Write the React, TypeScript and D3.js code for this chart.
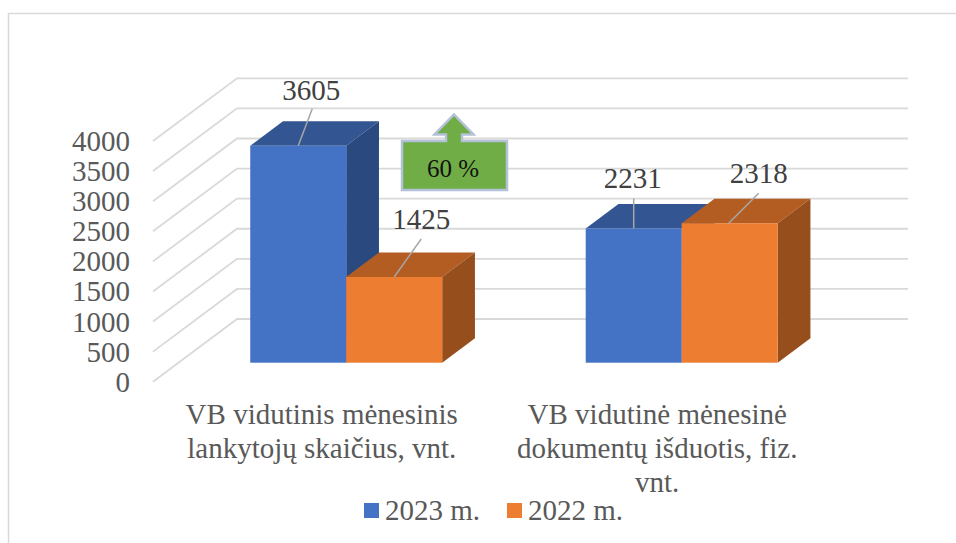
import * as d3 from "d3";
import { useEffect, useRef } from "react";

const categories = [
  ["VB vidutinis mėnesinis", "lankytojų skaičius, vnt."],
  ["VB vidutinė mėnesinė", "dokumentų išduotis, fiz.", "vnt."],
];
const seriesNames = ["2023 m.", "2022 m."];
const values2023 = [3605, 2231];
const values2022 = [1425, 2318];
const yTicks = [0, 500, 1000, 1500, 2000, 2500, 3000, 3500, 4000];

const width = 956;
const height = 543;
const font = "'Liberation Serif', 'Times New Roman', serif";

const colors = [
  { front: "#4472C4", top: "#335693", side: "#2A4A7F" },
  { front: "#ED7D31", top: "#B35D22", side: "#964F1C" },
];

// floor of the 3D plot: front edge and how far the back wall is shifted
const floorLeft = 153;
const floorRight = 824;
const floorFrontY = 381.7;
const wallDx = 84;
const wallDy = -62.7;
// bars stand part way into the floor
const barDepthStart = 0.303;
const barDepthSize = 0.39;

// label position relative to the top of the bar, [series][category]
const labelOffsets = [
  [
    { anchor: 48, tipX: 62, tipY: -37, textX: 61, textY: -46 },
    { anchor: 48, tipX: 48, tipY: -30, textX: 47, textY: -40 },
  ],
  [
    { anchor: 48, tipX: 75, tipY: -38, textX: 75, textY: -48 },
    { anchor: 47, tipX: 77, tipY: -30, textX: 77, textY: -40 },
  ],
];

const App = () => {
  const svgRef = useRef<SVGSVGElement>(null);

  useEffect(() => {
    const svg = d3.select(svgRef.current);
    svg.selectAll("*").remove();

    const xScale = d3
      .scaleBand()
      .domain(categories.map((_, i) => String(i)))
      .range([floorLeft, floorRight])
      .paddingInner(0.4278)
      .paddingOuter(0.214);
    const xInner = d3
      .scaleBand()
      .domain(seriesNames)
      .range([0, xScale.bandwidth()]);
    const yFront = d3
      .scaleLinear()
      .domain([0, 4000])
      .range([floorFrontY, floorFrontY - 240.7]);

    const barDx = wallDx * barDepthStart;
    const barDy = wallDy * barDepthStart;
    const depthX = wallDx * barDepthSize;
    const depthY = wallDy * barDepthSize;

    // chart frame
    svg
      .append("path")
      .attr("d", `M8.5,543V13.5H956`)
      .attr("fill", "none")
      .attr("stroke", "#d9d9d9")
      .attr("stroke-width", 1.5);

    // grid lines, side wall and back wall
    const grid = svg.append("g").attr("fill", "none").attr("stroke", "#d9d9d9").attr("stroke-width", 1.8);
    yTicks.forEach((t) => {
      const path = d3.path();
      path.moveTo(floorLeft, yFront(t));
      path.lineTo(floorLeft + wallDx, yFront(t) + wallDy);
      path.lineTo(floorRight + wallDx, yFront(t) + wallDy);
      grid.append("path").attr("d", path.toString());
    });

    // y axis labels
    const axis = svg
      .append("g")
      .attr("transform", "translate(130,0)")
      .call(d3.axisLeft(yFront).tickValues(yTicks).tickSize(0).tickPadding(0).tickFormat(d3.format("d")));
    axis.select(".domain").remove();
    axis
      .selectAll("text")
      .attr("font-family", font)
      .attr("font-size", 29)
      .attr("fill", "#595959")
      .attr("dy", 9.5);

    // bars, drawn per category so that the orange box covers the blue side
    const allValues = [values2023, values2022];
    categories.forEach((_, c) => {
      seriesNames.forEach((name, s) => {
        const v = allValues[s][c];
        const x0 = xScale(String(c)) + xInner(name) + barDx;
        const x1 = x0 + xInner.bandwidth();
        const yTop = yFront(v) + barDy;
        const yBase = yFront(0) + barDy;
        const g = svg.append("g");
        g.append("path")
          .attr("d", `M${x0},${yTop}L${x0 + depthX},${yTop + depthY}L${x1 + depthX},${yTop + depthY}L${x1},${yTop}Z`)
          .attr("fill", colors[s].top);
        g.append("path")
          .attr("d", `M${x1},${yTop}L${x1 + depthX},${yTop + depthY}L${x1 + depthX},${yBase + depthY}L${x1},${yBase}Z`)
          .attr("fill", colors[s].side);
        g.append("rect")
          .attr("x", x0)
          .attr("y", yTop)
          .attr("width", x1 - x0)
          .attr("height", yBase - yTop)
          .attr("fill", colors[s].front);
      });
    });

    // data labels with leader lines
    categories.forEach((_, c) => {
      seriesNames.forEach((name, s) => {
        const v = allValues[s][c];
        const o = labelOffsets[s][c];
        const x0 = xScale(String(c)) + xInner(name) + barDx;
        const yTop = yFront(v) + barDy;
        svg
          .append("line")
          .attr("x1", x0 + o.anchor)
          .attr("y1", yTop)
          .attr("x2", x0 + o.tipX)
          .attr("y2", yTop + o.tipY)
          .attr("stroke", "#a6a6a6")
          .attr("stroke-width", 1.5);
        svg
          .append("text")
          .attr("x", x0 + o.textX)
          .attr("y", yTop + o.textY)
          .attr("text-anchor", "middle")
          .attr("font-family", font)
          .attr("font-size", 29)
          .attr("fill", "#404040")
          .text(v);
      });
    });

    // category labels
    categories.forEach((lines, c) => {
      lines.forEach((line, i) => {
        svg
          .append("text")
          .attr("x", xScale(String(c)) + xScale.bandwidth() / 2 + 1)
          .attr("y", 424 + i * 34)
          .attr("text-anchor", "middle")
          .attr("font-family", font)
          .attr("font-size", 29)
          .attr("fill", "#595959")
          .text(line);
      });
    });

    // legend
    const legendX = d3.scaleOrdinal<string, number>().domain(seriesNames).range([364, 507]);
    seriesNames.forEach((name, s) => {
      svg
        .append("rect")
        .attr("x", legendX(name))
        .attr("y", 503)
        .attr("width", 15)
        .attr("height", 15)
        .attr("fill", colors[s].front);
      svg
        .append("text")
        .attr("x", legendX(name) + 21)
        .attr("y", 520)
        .attr("font-family", font)
        .attr("font-size", 29)
        .attr("fill", "#595959")
        .text(name);
    });

    // green up-arrow callout
    svg
      .append("path")
      .attr(
        "d",
        "M402,190V141H446V134.5H434.5L454,114.5L473.5,134.5H462V141H507V190Z"
      )
      .attr("fill", "#70AD47")
      .attr("stroke", "#B4C1D8")
      .attr("stroke-width", 2.5);
    svg
      .append("text")
      .attr("x", 453)
      .attr("y", 177)
      .attr("text-anchor", "middle")
      .attr("font-family", font)
      .attr("font-size", 25)
      .attr("fill", "#111111")
      .text("60 %");
  }, []);

  return (
    <svg
      ref={svgRef}
      width={width}
      height={height}
      style={{ position: "absolute", left: 0, top: 0, background: "#fff" }}
    />
  );
};

export default App;
